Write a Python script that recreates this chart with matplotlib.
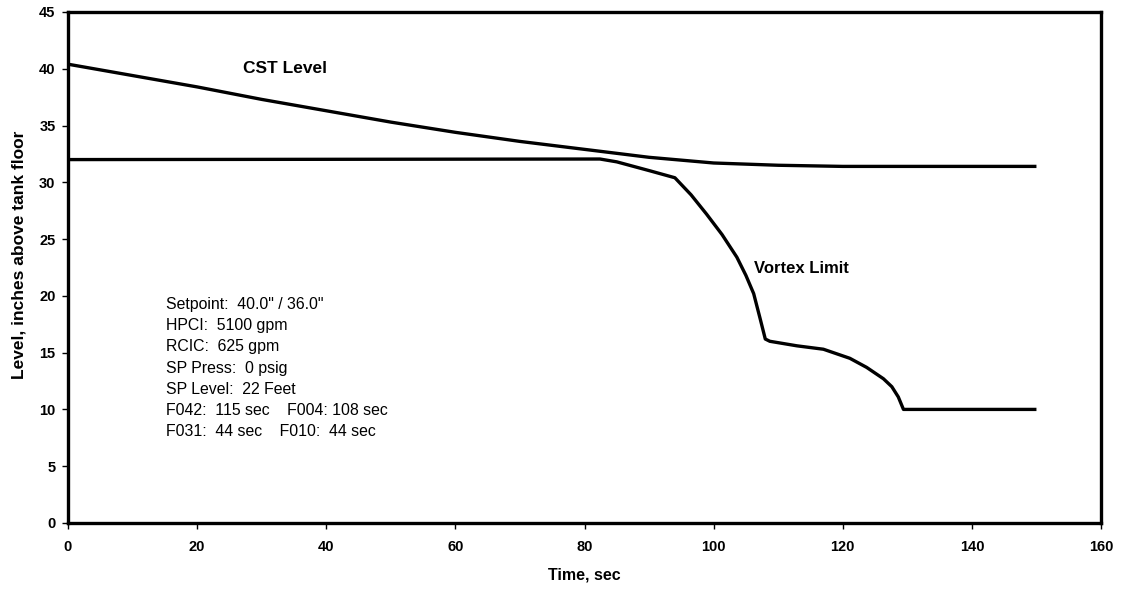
import matplotlib
matplotlib.use("Agg")
import matplotlib.pyplot as plt

plt.rcParams['font.family'] = ['Liberation Sans', 'DejaVu Sans']

# CST level vs time
cst_time = [0, 10, 20, 30, 40, 50, 60, 70, 80, 90, 100, 110, 120, 130, 140, 150]
cst_level = [40.4, 39.4, 38.4, 37.3, 36.3, 35.3, 34.4, 33.6, 32.9, 32.2, 31.7,
             31.5, 31.4, 31.4, 31.4, 31.4]

# Vortex limit vs time
vortex_time = [0, 82.4, 85.0, 90.2, 94.0, 96.5, 98.9, 101.3, 103.6, 105.0, 106.2,
               107.2, 108.0, 108.7, 112.9, 117.0, 121.1, 123.7, 126.3, 127.6,
               128.6, 129.4, 150]
vortex_level = [32.0, 32.05, 31.8, 31.0, 30.4, 28.9, 27.2, 25.4, 23.4, 21.8, 20.2,
                18.0, 16.2, 16.0, 15.6, 15.3, 14.5, 13.7, 12.7, 12.0, 11.1, 10.0, 10.0]

x_ticks = list(range(0, 161, 20))
y_ticks = list(range(0, 46, 5))

conditions = [
    'Setpoint:  40.0" / 36.0"',
    'HPCI:  5100 gpm',
    'RCIC:  625 gpm',
    'SP Press:  0 psig',
    'SP Level:  22 Feet',
    'F042:  115 sec    F004: 108 sec',
    'F031:  44 sec    F010:  44 sec',
]

fig = plt.figure(figsize=(11.22, 5.92), dpi=100)
ax = fig.add_axes([0.0606, 0.1166, 0.9207, 0.8632])

ax.plot(cst_time, cst_level, color='black', lw=2.4, solid_capstyle='butt')
ax.plot(vortex_time, vortex_level, color='black', lw=2.4, solid_capstyle='butt',
        solid_joinstyle='round')

ax.set_xlim(0, 160)
ax.set_ylim(0, 45)
ax.set_xticks(x_ticks)
ax.set_yticks(y_ticks)
for s in ax.spines.values():
    s.set_linewidth(2.4)
ax.tick_params(direction='out', length=4, width=1, labelsize=10.5)
for lbl in ax.get_xticklabels() + ax.get_yticklabels():
    lbl.set_fontweight('bold')
ax.tick_params(axis='x', pad=8)
ax.tick_params(axis='y', pad=5)

ax.set_xlabel('Time, sec', fontsize=11.5, fontweight='bold', labelpad=10)
ax.set_ylabel('Level, inches above tank floor', fontsize=12.5, fontweight='bold')
ax.yaxis.set_label_coords(-0.04, 0.525)

ax.text(27.1, 40.0, 'CST Level', fontsize=12.5, fontweight='bold',
        ha='left', va='center')
ax.text(106.2, 22.4, 'Vortex Limit', fontsize=12, fontweight='bold',
        ha='left', va='center')

ax.text(15.2, 19.9, '\n'.join(conditions), fontsize=11.4, ha='left', va='top',
        linespacing=1.52)

fig.savefig('out.png', dpi=100)
